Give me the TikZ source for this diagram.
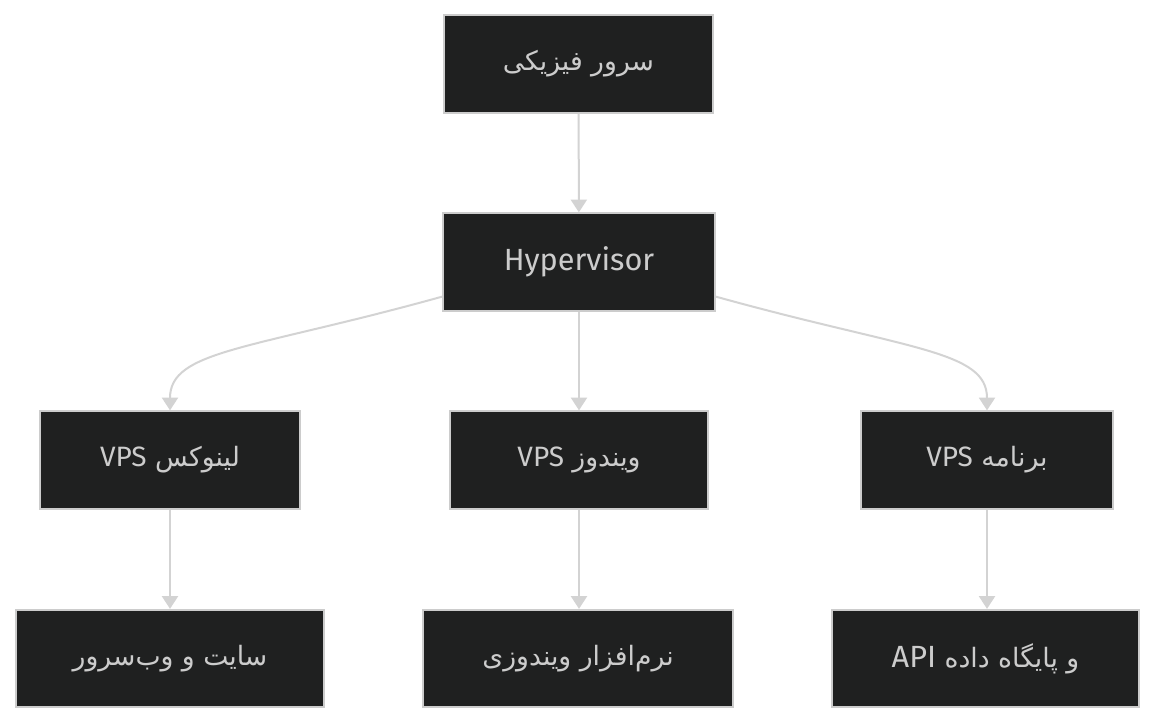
\documentclass[tikz,border=0pt]{standalone}
\usepackage{fontspec}
\setmainfont{Fira Sans}
\newfontfamily\farsi[Script=Arabic]{DejaVu Sans}
\TeXXeTstate=1
\usetikzlibrary{arrows.meta}

\definecolor{boxfill}{HTML}{1F2020}
\definecolor{boxline}{HTML}{CCCCCC}
\definecolor{boxtext}{HTML}{CCCCCC}
\definecolor{linkline}{HTML}{D3D3D3}

\begin{document}
\begin{tikzpicture}[
        x=0.75pt, y=-0.75pt,
        box/.style={draw=boxline, line width=1.5pt, fill=boxfill, text=boxtext,
            minimum height=73pt, inner sep=0pt,
            font=\fontsize{20}{24}\selectfont},
        link/.style={draw=linkline, line width=1.5pt,
            -{Triangle[length=9.5pt, width=12pt]}}
    ]
        \useasboundingbox (0,0) rectangle (1155,724);

        % Host and hypervisor
        \node[box, minimum width=202pt] (srv) at (578.5, 64) {\farsi\beginR سرور فیزیکی\endR};
        \node[box, minimum width=204pt, font=\fontsize{23}{27}\selectfont] (hyp) at (579, 262) {Hypervisor};

        % Virtual servers
        \node[box, minimum width=195pt] (vpsl) at (170, 460) {\farsi\beginR لینوکس \beginL{\normalfont\fontsize{21}{24}\selectfont VPS}\endL\endR};
        \node[box, minimum width=194pt] (vpsw) at (579, 460) {\farsi\beginR ویندوز \beginL{\normalfont\fontsize{21}{24}\selectfont VPS}\endL\endR};
        \node[box, minimum width=189pt] (vpsa) at (987, 460) {\farsi\beginR برنامه \beginL{\normalfont\fontsize{21}{24}\selectfont VPS}\endL\endR};

        % Workloads
        \node[box, minimum width=231pt] (appl) at (170, 658.5) {\farsi\beginR سایت و وب‌سرور\endR};
        \node[box, minimum width=232pt] (appw) at (578, 658.5) {\farsi\beginR نرم‌افزار ویندوزی\endR};
        \node[box, minimum width=230pt] (appa) at (985.5, 658.5) {\farsi\beginR و پایگاه داده \beginL{\normalfont\fontsize{23}{26}\selectfont API}\endL\endR};

        % Links
        \draw[link] (srv) -- (hyp);
        \draw[link] ([yshift=-26pt]hyp.west) .. controls (250, 350) and (170, 350) .. (vpsl.north);
        \draw[link] (hyp) -- (vpsw);
        \draw[link] ([yshift=-26pt]hyp.east) .. controls (908, 350) and (987, 350) .. (vpsa.north);
        \draw[link] (vpsl) -- (appl.north -| vpsl);
        \draw[link] (vpsw) -- (appw.north -| vpsw);
        \draw[link] (vpsa) -- (appa.north -| vpsa);
\end{tikzpicture}
\end{document}
